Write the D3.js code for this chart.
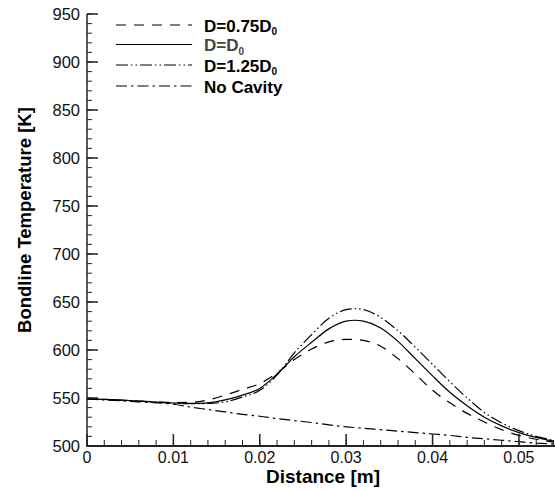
<!DOCTYPE html>
<html>
<head>
<meta charset="utf-8">
<script src="https://cdn.jsdelivr.net/npm/d3@7"></script>
<style>
body { margin: 0; background: #fff; }
svg { display: block; font-family: "Liberation Sans", Arial, sans-serif; }
</style>
</head>
<body>
<svg id="chart"></svg>
<script>
var WIDTH = 555, HEIGHT = 491;

// distance [m]
var distance = [0, 0.002, 0.004, 0.006, 0.008, 0.010, 0.012, 0.014, 0.016, 0.018,
  0.020, 0.022, 0.024, 0.026, 0.028, 0.030, 0.031, 0.032, 0.034, 0.036, 0.038,
  0.040, 0.042, 0.044, 0.046, 0.048, 0.050, 0.052, 0.054];
// bondline temperature [K]
var tempD075 = [549, 548.5, 547.7, 546.8, 545.9, 545.3, 545.5, 548, 553, 559,
  565, 576, 590, 601, 608.5, 611, 611, 610, 604, 591, 575,
  558, 545, 534, 525, 517, 511, 507, 504];
var tempD0 = [549, 548.5, 547.7, 546.8, 545.8, 544.8, 544.3, 545, 548, 553,
  560, 575, 593, 608, 622, 630, 631, 630, 623, 609, 591,
  573, 556, 542, 530, 521, 514, 509, 505];
var tempD125 = [549, 548.5, 547.7, 546.8, 545.7, 544.6, 544, 544.3, 546, 551,
  558, 574, 597, 616, 633, 642, 643, 642, 634, 620, 603,
  585, 567, 550, 535, 524, 516, 510, 506];
var tempNoCavity = [549, 548, 547, 546, 545, 543.5, 540.5, 538, 535.5, 533,
  531, 528.5, 526.5, 524.5, 522, 520, 519.2, 518.5, 517, 515.5, 514,
  512.5, 511, 509, 507.5, 506, 504.5, 503, 502];

var xTicks = [0, 0.01, 0.02, 0.03, 0.04, 0.05];
var yTicks = [500, 550, 600, 650, 700, 750, 800, 850, 900, 950];

var series = [
  {name: "D=0.75D", sub: "0", values: tempD075, dash: "10,8", color: "#000"},
  {name: "D=D", sub: "0", values: tempD0, dash: null, color: "#000", text: "#444"},
  {name: "D=1.25D", sub: "0", values: tempD125, dash: "12,3,1.5,3,1.5,3", color: "#000"},
  {name: "No Cavity", sub: "", values: tempNoCavity, dash: "11,4,2.5,4", color: "#000"}
];

var svg = d3.select("#chart").attr("width", WIDTH).attr("height", HEIGHT);

var x = d3.scaleLinear().domain([0, 0.054]).range([87, 553.5]);
var y = d3.scaleLinear().domain([500, 950]).range([446, 14]);

var plot = svg.append("g");
plot.append("clipPath").attr("id", "clip").append("rect")
  .attr("x", 87).attr("y", 0).attr("width", WIDTH - 87).attr("height", 446);

var line = d3.line()
  .x(function(d, i) { return x(distance[i]); })
  .y(function(d) { return y(d); })
  .curve(d3.curveMonotoneX);

series.forEach(function(s) {
  plot.append("path")
    .attr("clip-path", "url(#clip)")
    .attr("d", line(s.values))
    .attr("fill", "none")
    .attr("stroke", s.color)
    .attr("stroke-width", 1.2)
    .attr("stroke-dasharray", s.dash);
});

// x axis: major + minor ticks pointing inward
var xMinor = d3.range(0, 0.0541, 0.002);
var gx = svg.append("g").attr("transform", "translate(0,446)");
gx.selectAll(".minor").data(xMinor).enter().append("line")
  .attr("x1", function(d) { return x(d); }).attr("x2", function(d) { return x(d); })
  .attr("y1", 0).attr("y2", -6).attr("stroke", "#222").attr("stroke-width", 1);
gx.selectAll(".major").data(xTicks).enter().append("line")
  .attr("x1", function(d) { return x(d); }).attr("x2", function(d) { return x(d); })
  .attr("y1", 0).attr("y2", -12).attr("stroke", "#222").attr("stroke-width", 1.5);
gx.append("line").attr("x1", 87).attr("x2", WIDTH).attr("y1", 0).attr("y2", 0)
  .attr("stroke", "#222").attr("stroke-width", 2);
gx.selectAll("text").data(xTicks).enter().append("text")
  .attr("x", function(d) { return x(d); }).attr("y", 17)
  .attr("text-anchor", "middle").attr("font-size", 16).attr("fill", "#111")
  .text(function(d) { return d === 0 ? "0" : d3.format(".2f")(d); });

// y axis
var yMinor = d3.range(500, 951, 10);
var gy = svg.append("g").attr("transform", "translate(87,0)");
gy.selectAll(".minor").data(yMinor).enter().append("line")
  .attr("x1", 0).attr("x2", 5)
  .attr("y1", function(d) { return y(d); }).attr("y2", function(d) { return y(d); })
  .attr("stroke", "#222").attr("stroke-width", 1);
gy.selectAll(".major").data(yTicks).enter().append("line")
  .attr("x1", 0).attr("x2", 11)
  .attr("y1", function(d) { return y(d); }).attr("y2", function(d) { return y(d); })
  .attr("stroke", "#222").attr("stroke-width", 1.5);
gy.append("line").attr("x1", 0).attr("x2", 0).attr("y1", y(950)).attr("y2", 447)
  .attr("stroke", "#222").attr("stroke-width", 1.5);
gy.selectAll("text").data(yTicks).enter().append("text")
  .attr("x", -7).attr("y", function(d) { return y(d) + 6; })
  .attr("text-anchor", "end").attr("font-size", 16.5).attr("fill", "#111")
  .text(function(d) { return d; });

// axis titles
svg.append("text").attr("x", 323).attr("y", 483)
  .attr("text-anchor", "middle").attr("font-size", 19).attr("font-weight", "bold")
  .text("Distance [m]");
svg.append("text")
  .attr("transform", "translate(31,220) rotate(-90)")
  .attr("text-anchor", "middle").attr("font-size", 18.5).attr("font-weight", "bold")
  .text("Bondline Temperature [K]");

// legend
var legendY = [25, 44.5, 65, 86];
var legend = svg.append("g");
series.forEach(function(s, i) {
  legend.append("line")
    .attr("x1", 116).attr("x2", 192)
    .attr("y1", legendY[i]).attr("y2", legendY[i])
    .attr("stroke", "#000").attr("stroke-width", 1.2)
    .attr("stroke-dasharray", s.dash);
  var t = legend.append("text")
    .attr("x", 204).attr("y", legendY[i] + 6.5)
    .attr("font-size", 17).attr("font-weight", "bold")
    .attr("fill", s.text || "#000");
  t.append("tspan").text(s.name);
  if (s.sub) {
    t.append("tspan").attr("font-size", 10).attr("dy", 3.5).text(s.sub);
  }
});
</script>
</body>
</html>
